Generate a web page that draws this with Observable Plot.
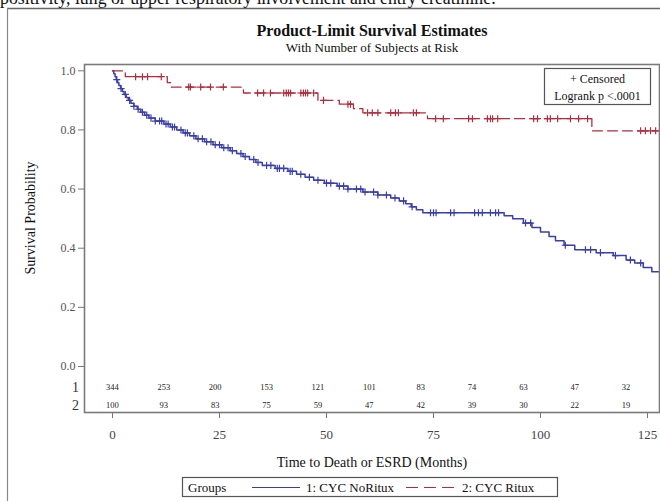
<!DOCTYPE html>
<html><head><meta charset="utf-8">
<script src="https://cdn.jsdelivr.net/npm/d3@7"></script>
<script src="https://cdn.jsdelivr.net/npm/@observablehq/plot@0.6"></script>
<style>
body{margin:0;background:#fff;}
#chart{position:relative;width:660px;height:501px;overflow:hidden;}
</style></head><body><div id="chart"></div>
<script>
// ---- data ----
const groupNames = ["1: CYC NoRitux", "2: CYC Ritux"];
const blueTime = [0,0.3,0.6,0.9,1.2,1.5,1.9,2.3,2.7,3.2,3.7,4.3,5.0,5.8,6.6,7.5,8.5,10.0,12.0,13.5,15.0,16.5,18.0,19.5,21.5,23.5,25.5,27.5,29.0,30.5,32.0,33.5,35.0,38.0,41.0,43.0,45.0,47.0,49.5,52.5,55.0,58.5,62.0,65.0,67.0,68.5,69.8,71.0,72.5,91.5,93.5,96.0,98.0,100.0,102.0,103.5,105.5,108.0,113.0,117.0,120.0,122.0,124.0,126.0,128.0];
const blueSurv = [1.0,0.99,0.98,0.97,0.96,0.95,0.94,0.93,0.92,0.91,0.90,0.89,0.88,0.87,0.86,0.85,0.84,0.83,0.82,0.81,0.80,0.79,0.78,0.77,0.76,0.75,0.74,0.73,0.72,0.71,0.70,0.69,0.68,0.67,0.66,0.65,0.64,0.63,0.62,0.61,0.60,0.59,0.58,0.57,0.56,0.55,0.54,0.53,0.52,0.51,0.50,0.485,0.47,0.455,0.44,0.425,0.41,0.395,0.385,0.375,0.36,0.35,0.335,0.32,0.32];
const blueCensor = [1,2,3,4,5,6,7,8,9,10,11,11.5,12.5,13,14,14.5,16,17,17.5,19,20,21,22,23,24,25,26,27,28,30,31,33,34,36,37,38.5,39,40,41.5,42,44,46,48,50,51,53,54,55,57,58,59,61,62,64,66,68,70,74.3,75,75.6,79,79.8,84.6,85.5,86.4,88.3,89.5,90.2,96.5,97.7,105.8,110.5,111.7,114,117.5,121,123.4];
const redTime = [0,3.0,12.8,13.6,30.6,48.0,53.0,56.3,58.5,73.6,112.0,127.5];
const redSurv = [1.0,0.98,0.96,0.945,0.925,0.90,0.887,0.872,0.858,0.838,0.797,0.797];
const redCensor = [5.4,7,8.2,11.4,17.8,18.2,20.6,22.9,25.9,33.9,35.3,36.9,40,40.6,41.1,41.6,44,44.6,45.1,45.6,47,49.3,55,55.6,59.6,60.7,62,65,66.1,66.8,70.3,71,75.5,77.3,83.2,84.1,87.6,88.3,88.8,90,98.4,99.3,101.6,102.3,104,107,108.9,111,123.4,124.5,125.7,126.9];
const riskTimes = [0,12,24,36,48,60,72,84,96,108,120];
const riskBlue = [344,253,200,153,121,101,83,74,63,47,32];
const riskRed = [100,93,83,75,59,47,42,39,30,22,19];
const xTicks = [0,25,50,75,100,125];
const yTicks = [0,0.2,0.4,0.6,0.8,1.0];

const BLUE = "#3a3fa6", RED = "#ad2f3f";
const FONT = "Liberation Serif, Times New Roman, serif";

const toRows = (t, s, g) => t.map((d, i) => ({time: d, surv: s[i], group: g}));
const blueRows = toRows(blueTime, blueSurv, groupNames[0]);
const redRows = toRows(redTime, redSurv, groupNames[1]);
const stepAt = (times, survs, t) => { let v = survs[0]; for (let i = 0; i < times.length; i++) if (times[i] <= t) v = survs[i]; return v; };
const blueC = blueCensor.map(t => ({time: t, surv: stepAt(blueTime, blueSurv, t)}));
const redC = redCensor.map(t => ({time: t, surv: stepAt(redTime, redSurv, t)}));
const riskRows = riskTimes.flatMap((t, i) => [{time: t, n: riskBlue[i], row: 1}, {time: t, n: riskRed[i], row: 2}]);

const plusSym = {draw(ctx, size) { const r = Math.sqrt(size) / 2; ctx.moveTo(-r, 0); ctx.lineTo(r, 0); ctx.moveTo(0, -r); ctx.lineTo(0, r); }};
const ROW_Y = {1: -0.071, 2: -0.132};

const svg = Plot.plot({
  width: 660, height: 501,
  marginLeft: 84, marginRight: 1, marginTop: 64, marginBottom: 89,
  style: {fontFamily: FONT, background: "white"},
  x: {domain: [-6.54, 127.8]},
  y: {domain: [-0.1556, 1.0213]},
  marks: [
    Plot.line(blueRows, {x: "time", y: "surv", curve: "step-after", stroke: BLUE, strokeWidth: 1.5}),
    Plot.line(redRows, {x: "time", y: "surv", curve: "step-after", stroke: RED, strokeWidth: 1.3, strokeDasharray: "10,5"}),
    Plot.dot(blueC, {x: "time", y: "surv", symbol: plusSym, r: 4, stroke: BLUE, fill: "none", strokeWidth: 1.2}),
    Plot.dot(redC, {x: "time", y: "surv", symbol: plusSym, r: 4, stroke: RED, fill: "none", strokeWidth: 1.2}),
    Plot.text(riskRows, {x: "time", y: d => ROW_Y[d.row], text: "n", fontSize: 8.5, fill: "#222"}),
    Plot.axisY({ticks: yTicks, tickFormat: d3.format(".1f"), tickSize: 6, tickPadding: 3, fontSize: 12, fill: "#555", stroke: "#777", label: null}),
    Plot.axisX({ticks: xTicks, tickSize: 6, tickPadding: 11, fontSize: 13, fill: "#444", stroke: "#777", label: null}),
    Plot.frame({stroke: "#7a7a7a", strokeWidth: 1.6})
  ]
});
document.getElementById("chart").appendChild(svg);

const s = d3.select(svg);
const g = s.append("g").attr("font-family", FONT).attr("text-anchor", "start");
// cut-off sentence at the very top
g.append("text").attr("x", 0).attr("y", 4).attr("font-size", 17.8).attr("fill", "#111").attr("text-anchor", "start")
  .text("positivity, lung or upper respiratory involvement and entry creatinine.");
// outer border
g.append("line").attr("x1", 7).attr("x2", 660).attr("y1", 8.5).attr("y2", 8.5).attr("stroke", "#666").attr("stroke-width", 1.5);
g.append("line").attr("x1", 7.5).attr("x2", 7.5).attr("y1", 8).attr("y2", 501).attr("stroke", "#888").attr("stroke-width", 1.2);
// titles
g.append("text").attr("x", 372).attr("y", 36).attr("text-anchor", "middle").attr("font-size", 16).attr("font-weight", "bold").attr("fill", "#111").text("Product-Limit Survival Estimates");
g.append("text").attr("x", 372).attr("y", 52).attr("text-anchor", "middle").attr("font-size", 13).attr("fill", "#111").text("With Number of Subjects at Risk");
// y label
g.append("text").attr("transform", "translate(35,218) rotate(-90)").attr("text-anchor", "middle").attr("font-size", 14).attr("fill", "#111").text("Survival Probability");
// x label
g.append("text").attr("x", 372).attr("y", 467).attr("text-anchor", "middle").attr("font-size", 14).attr("fill", "#111").text("Time to Death or ESRD (Months)");
// at-risk row labels
const yS = svg.scale("y");
[1, 2].forEach(r => g.append("text").attr("x", 79).attr("y", yS.apply(ROW_Y[r]) + 5).attr("text-anchor", "end").attr("font-size", 14).attr("fill", "#333").text(String(r)));
// censored inset box
g.append("rect").attr("x", 544.5).attr("y", 68.5).attr("width", 106).attr("height", 36).attr("fill", "white").attr("stroke", "#555").attr("stroke-width", 1.2);
g.append("text").attr("x", 597.5).attr("y", 83).attr("text-anchor", "middle").attr("font-size", 12).attr("fill", "#111").text("+ Censored");
g.append("text").attr("x", 597.5).attr("y", 100).attr("text-anchor", "middle").attr("font-size", 12).attr("fill", "#111").text("Logrank p <.0001");
// bottom legend
g.append("rect").attr("x", 182.5).attr("y", 477.5).attr("width", 375).attr("height", 19).attr("fill", "white").attr("stroke", "#555").attr("stroke-width", 1.2);
g.append("text").attr("x", 188).attr("y", 492).attr("text-anchor", "start").attr("font-size", 13).attr("fill", "#111").text("Groups");
g.append("line").attr("x1", 252).attr("x2", 300).attr("y1", 487.5).attr("y2", 487.5).attr("stroke", BLUE).attr("stroke-width", 1.2);
g.append("text").attr("x", 306).attr("y", 492).attr("text-anchor", "start").attr("font-size", 13).attr("fill", "#111").text(groupNames[0]);
g.append("line").attr("x1", 406).attr("x2", 454).attr("y1", 487.5).attr("y2", 487.5).attr("stroke", RED).attr("stroke-width", 1.2).attr("stroke-dasharray", "12,6");
g.append("text").attr("x", 462).attr("y", 492).attr("text-anchor", "start").attr("font-size", 13).attr("fill", "#111").text(groupNames[1]);
</script></body></html>
